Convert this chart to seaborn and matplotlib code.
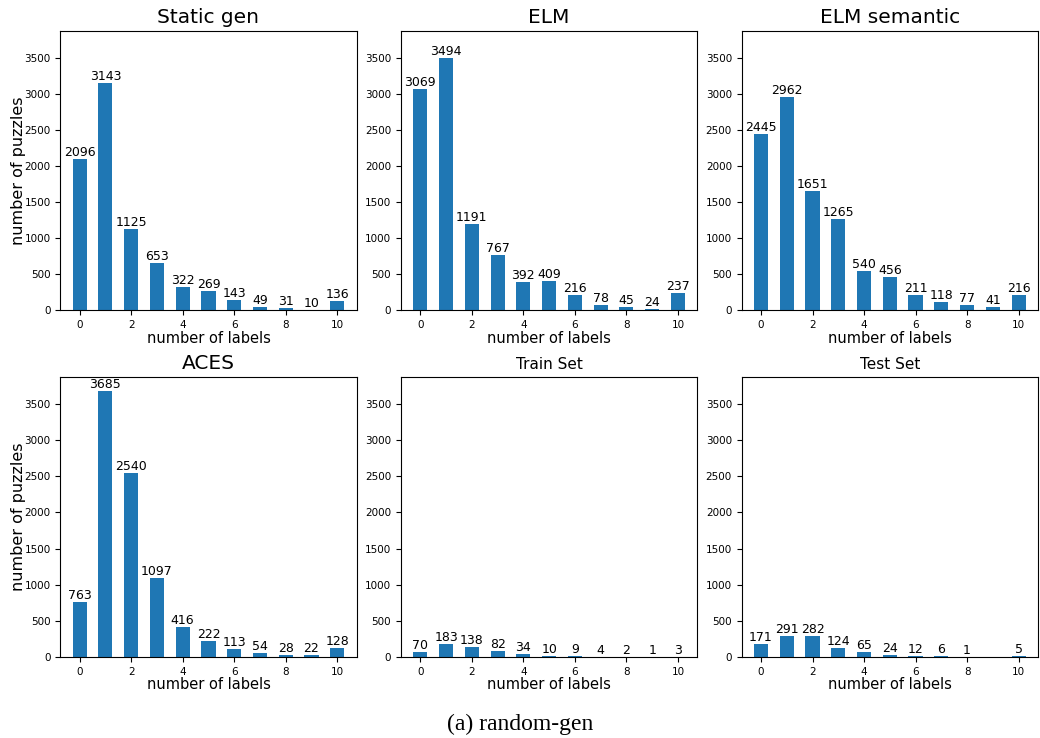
import matplotlib
matplotlib.use("Agg")
import matplotlib.pyplot as plt
import seaborn as sns
import pandas as pd

labels = list(range(11))

static_gen = [2096, 3143, 1125, 653, 322, 269, 143, 49, 31, 10, 136]
elm = [3069, 3494, 1191, 767, 392, 409, 216, 78, 45, 24, 237]
elm_semantic = [2445, 2962, 1651, 1265, 540, 456, 211, 118, 77, 41, 216]
aces = [763, 3685, 2540, 1097, 416, 222, 113, 54, 28, 22, 128]
train_set = [70, 183, 138, 82, 34, 10, 9, 4, 2, 1, 3]
test_set = [171, 291, 282, 124, 65, 24, 12, 6, 1, 0, 5]

panels = [
    ("Static gen", static_gen, 14.5),
    ("ELM", elm, 14.5),
    ("ELM semantic", elm_semantic, 14.5),
    ("ACES", aces, 14.5),
    ("Train Set", train_set, 11),
    ("Test Set", test_set, 11),
]

fig, axes = plt.subplots(2, 3, figsize=(10.4, 7.38), dpi=100)
fig.subplots_adjust(left=0.058, right=0.998, top=0.958, bottom=0.110,
                    wspace=0.15, hspace=0.24)

ymax = max(max(v) for _, v, _ in panels) * 1.05

for i, (ax, (title, values, tsize)) in enumerate(zip(axes.flat, panels)):
    df = pd.DataFrame({"n": labels, "count": values})
    sns.barplot(data=df, x="n", y="count", native_scale=True, width=0.55,
                color="#1f77b4", saturation=1, ax=ax)
    bars = ax.containers[0]
    ax.bar_label(bars, labels=[str(v) if v > 0 else "" for v in values],
                 fontsize=9)
    ax.set_xlim(-0.75, 10.75)
    ax.set_ylim(0, ymax)
    ax.set_xticks([0, 2, 4, 6, 8, 10])
    ax.tick_params(labelsize=7.5)
    ax.set_title(title, fontsize=tsize)
    ax.set_xlabel("number of labels", fontsize=10.5, labelpad=0.5)
    if i % 3 == 0:
        ax.set_ylabel("number of puzzles", fontsize=11.5, labelpad=-1)
    else:
        ax.set_ylabel("")

fig.text(0.5, 0.019, "(a) random-gen", ha="center", va="center",
         fontsize=17, family="Liberation Serif")

fig.savefig("out.png", dpi=100)
